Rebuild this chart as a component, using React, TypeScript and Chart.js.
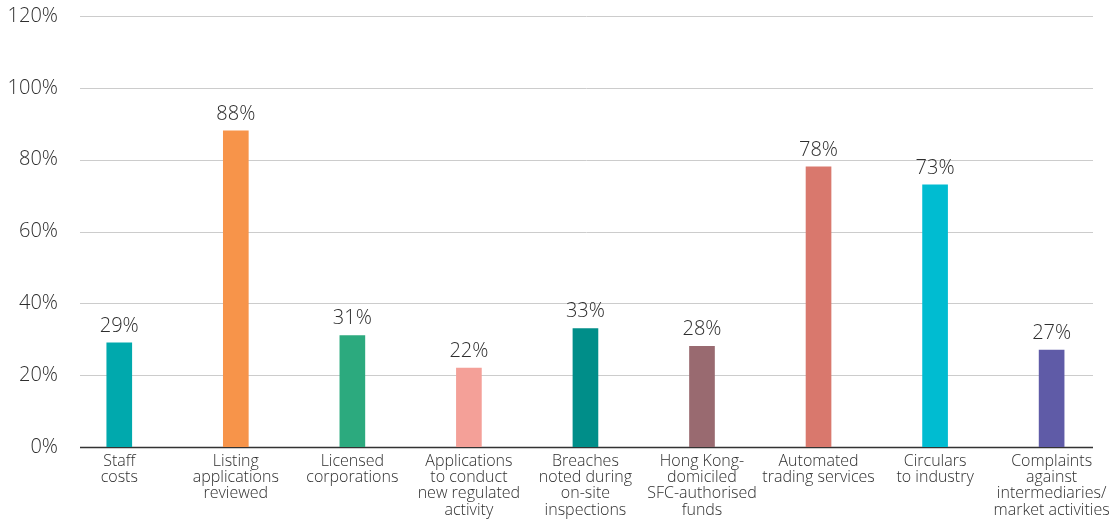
import React, { useEffect, useRef } from "react";
import { Chart, registerables } from "chart.js";

Chart.register(...registerables);

const categories: string[][] = [
  ["Staff", "costs"],
  ["Listing", "applications", "reviewed"],
  ["Licensed", "corporations"],
  ["Applications", "to conduct", "new regulated", "activity"],
  ["Breaches", "noted during", "on-site", "inspections"],
  ["Hong Kong-", "domiciled", "SFC-authorised", "funds"],
  ["Automated", "trading services"],
  ["Circulars", "to industry"],
  ["Complaints", "against", "intermediaries/", "market activities"],
];
const values: number[] = [29, 88, 31, 22, 33, 28, 78, 73, 27];
const barColors: string[] = [
  "#00A9AD",
  "#F7944A",
  "#2CAA7E",
  "#F4A098",
  "#008E89",
  "#996A70",
  "#D9786D",
  "#00BCD1",
  "#5F5BA7",
];
const yTicks: number[] = [0, 20, 40, 60, 80, 100, 120];

const FONT = "'Open Sans', 'DejaVu Sans', sans-serif";

export default function App() {
  const ref = useRef<HTMLCanvasElement | null>(null);

  useEffect(() => {
    document.body.style.margin = "0";
    const canvas = ref.current!;
    const gridPlugin = {
      id: "customGrid",
      beforeDatasetsDraw(chart: any) {
        const ctx = chart.ctx;
        const y = chart.scales.y;
        ctx.save();
        yTicks.forEach((t) => {
          const py = Math.round(y.getPixelForValue(t)) + 0.5;
          ctx.beginPath();
          if (t === 0) {
            ctx.strokeStyle = "#333333";
            ctx.lineWidth = 1.5;
          } else {
            ctx.strokeStyle = "#cccccc";
            ctx.lineWidth = 1;
          }
          ctx.moveTo(80, py);
          ctx.lineTo(1093, py);
          ctx.stroke();
        });
        ctx.restore();
      },
    };
    const labelPlugin = {
      id: "valueLabels",
      afterDatasetsDraw(chart: any) {
        const ctx = chart.ctx;
        const meta = chart.getDatasetMeta(0);
        ctx.save();
        ctx.font = `300 20px ${FONT}`;
        ctx.fillStyle = "#2e2e2e";
        ctx.textAlign = "center";
        ctx.textBaseline = "bottom";
        meta.data.forEach((bar: any, i: number) => {
          ctx.fillText(values[i] + "%", bar.x, bar.y - 7);
        });
        ctx.restore();
      },
    };
    const chart = new Chart(canvas, {
      type: "bar",
      data: {
        labels: categories,
        datasets: [
          {
            data: values,
            backgroundColor: barColors,
            barThickness: 25,
          },
        ],
      },
      options: {
        animation: false,
        responsive: false,
        maintainAspectRatio: false,
        layout: { padding: { top: 16, right: 6, left: 0, bottom: 0 } },
        plugins: {
          legend: { display: false },
          tooltip: { enabled: false },
        },
        scales: {
          x: {
            grid: { display: false, drawTicks: false },
            border: { display: false },
            ticks: {
              color: "#2e2e2e",
              font: { family: FONT, size: 16, lineHeight: 1.02, weight: "300" as any },
              padding: 6,
              maxRotation: 0,
              autoSkip: false,
            },
            afterFit(scale: any) {
              scale.height = 73;
            },
          },
          y: {
            min: 0,
            max: 120,
            grid: { display: false, drawTicks: false },
            border: { display: false },
            ticks: {
              stepSize: 20,
              color: "#2e2e2e",
              font: { family: FONT, size: 20, weight: "300" as any },
              padding: 3,
              callback: (v: any) => v + "%",
            },
            afterFit(scale: any) {
              scale.width = 61;
            },
          },
        },
      },
      plugins: [gridPlugin, labelPlugin],
    });
    return () => chart.destroy();
  }, []);

  return <canvas ref={ref} width={1116} height={520} style={{ display: "block" }} />;
}
